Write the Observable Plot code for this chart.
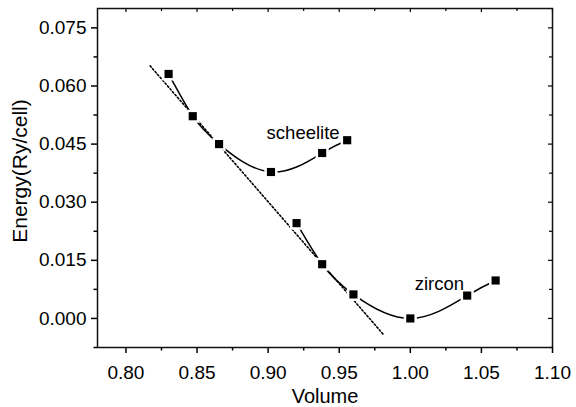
<!DOCTYPE html>
<html>
<head>
<meta charset="utf-8">
<script src="https://cdn.jsdelivr.net/npm/d3@7"></script>
<script src="https://cdn.jsdelivr.net/npm/@observablehq/plot@0.6"></script>
<style>
  html, body { margin: 0; padding: 0; background: #fff; }
  #chart svg { display: block; }
</style>
</head>
<body>
<div id="chart"></div>
<script>
// Data
const scheeliteV = [0.830, 0.847, 0.8655, 0.902, 0.938, 0.9556];
const scheeliteE = [0.0631, 0.0522, 0.0450, 0.0378, 0.0427, 0.0460];
const zirconV = [0.920, 0.938, 0.960, 1.000, 1.040, 1.060];
const zirconE = [0.0246, 0.0140, 0.0062, 0.0000, 0.0059, 0.0098];
const fitV = [0.817, 0.981];
const fitE = [0.0652, -0.0041];
const labelNames = ["scheelite", "zircon"];
const labelV = [0.9246, 1.0204];
const labelE = [0.0478, 0.0088];
const xMajor = [0.80, 0.85, 0.90, 0.95, 1.00, 1.05, 1.10];
const xMinor = [0.825, 0.875, 0.925, 0.975, 1.025, 1.075];
const yMajor = [0.000, 0.015, 0.030, 0.045, 0.060, 0.075];
const yMinor = [-0.0075, 0.0075, 0.0225, 0.0375, 0.0525, 0.0675];

const W = 576, H = 407;
const mL = 97, mR = 24, mT = 8, mB = 60;
const pw = W - mL - mR, ph = H - mT - mB;

const scheelite = scheeliteV.map((v, i) => ({v, e: scheeliteE[i]}));
const zircon = zirconV.map((v, i) => ({v, e: zirconE[i]}));
const fit = fitV.map((v, i) => ({v, e: fitE[i]}));
const labels = labelNames.map((t, i) => ({t, v: labelV[i], e: labelE[i]}));

const font = "Liberation Sans, Arial, Helvetica, sans-serif";

const chart = Plot.plot({
  width: W, height: H,
  marginLeft: mL, marginRight: mR, marginTop: mT, marginBottom: mB,
  style: {fontFamily: font, fontSize: "19px", color: "#000", background: "#fff"},
  x: {domain: [0.78, 1.10], axis: null},
  y: {domain: [-0.0075, 0.08], axis: null},
  marks: [
    // bottom axis
    Plot.axisX(xMajor, {anchor: "bottom", tickSize: 6, tickPadding: 12, tickFormat: d3.format(".2f"), fontSize: 19, label: null, strokeWidth: 1.5}),
    Plot.axisX(xMinor, {anchor: "bottom", tickSize: 3.5, text: null, label: null, strokeWidth: 1.5}),
    // left axis
    Plot.axisY(yMajor, {anchor: "left", tickSize: 6, tickPadding: 5, tickFormat: d3.format(".3f"), fontSize: 19, label: null, strokeWidth: 1.5}),
    Plot.axisY(yMinor, {anchor: "left", tickSize: 3.5, text: null, label: null, strokeWidth: 1.5}),
    // top inward ticks
    Plot.tickX(xMajor, {x: d => d, insetBottom: ph - 4, strokeWidth: 1.2}),
    Plot.tickX(xMinor, {x: d => d, insetBottom: ph - 3, strokeWidth: 1.2}),
    // right inward ticks
    Plot.tickY(yMajor, {y: d => d, insetLeft: pw - 4, strokeWidth: 1.2}),
    Plot.tickY(yMinor, {y: d => d, insetLeft: pw - 3, strokeWidth: 1.2}),
    // dotted fit line
    Plot.line(fit, {x: "v", y: "e", stroke: "#000", strokeWidth: 1.6, strokeDasharray: "1.6,2.2"}),
    // curves
    Plot.line(scheelite, {x: "v", y: "e", curve: "natural", stroke: "#000", strokeWidth: 1.5}),
    Plot.line(zircon, {x: "v", y: "e", curve: "natural", stroke: "#000", strokeWidth: 1.5}),
    // markers (white halo creates the gap around each symbol)
    Plot.dot(scheelite, {x: "v", y: "e", symbol: "square", r: 4.6, fill: "#000", stroke: "#fff", strokeWidth: 5}),
    Plot.dot(zircon, {x: "v", y: "e", symbol: "square", r: 4.6, fill: "#000", stroke: "#fff", strokeWidth: 5}),
    Plot.dot(scheelite, {x: "v", y: "e", symbol: "square", r: 4.6, fill: "#000"}),
    Plot.dot(zircon, {x: "v", y: "e", symbol: "square", r: 4.6, fill: "#000"}),
    // labels
    Plot.text(labels, {x: "v", y: "e", text: "t", fontSize: 18.5, fill: "#000", textAnchor: "middle", lineAnchor: "middle"}),
    // axis titles
    Plot.text(["Volume"], {frameAnchor: "bottom", lineAnchor: "middle", textAnchor: "middle", dy: 49, fontSize: 20, fill: "#000"}),
    Plot.text(["Energy(Ry/cell)"], {frameAnchor: "left", lineAnchor: "middle", textAnchor: "middle", dx: -77, dy: -7, rotate: -90, fontSize: 21, fill: "#000"}),
    Plot.frame({stroke: "#111", strokeWidth: 1.5})
  ]
});
document.getElementById("chart").appendChild(chart);
</script>
</body>
</html>
